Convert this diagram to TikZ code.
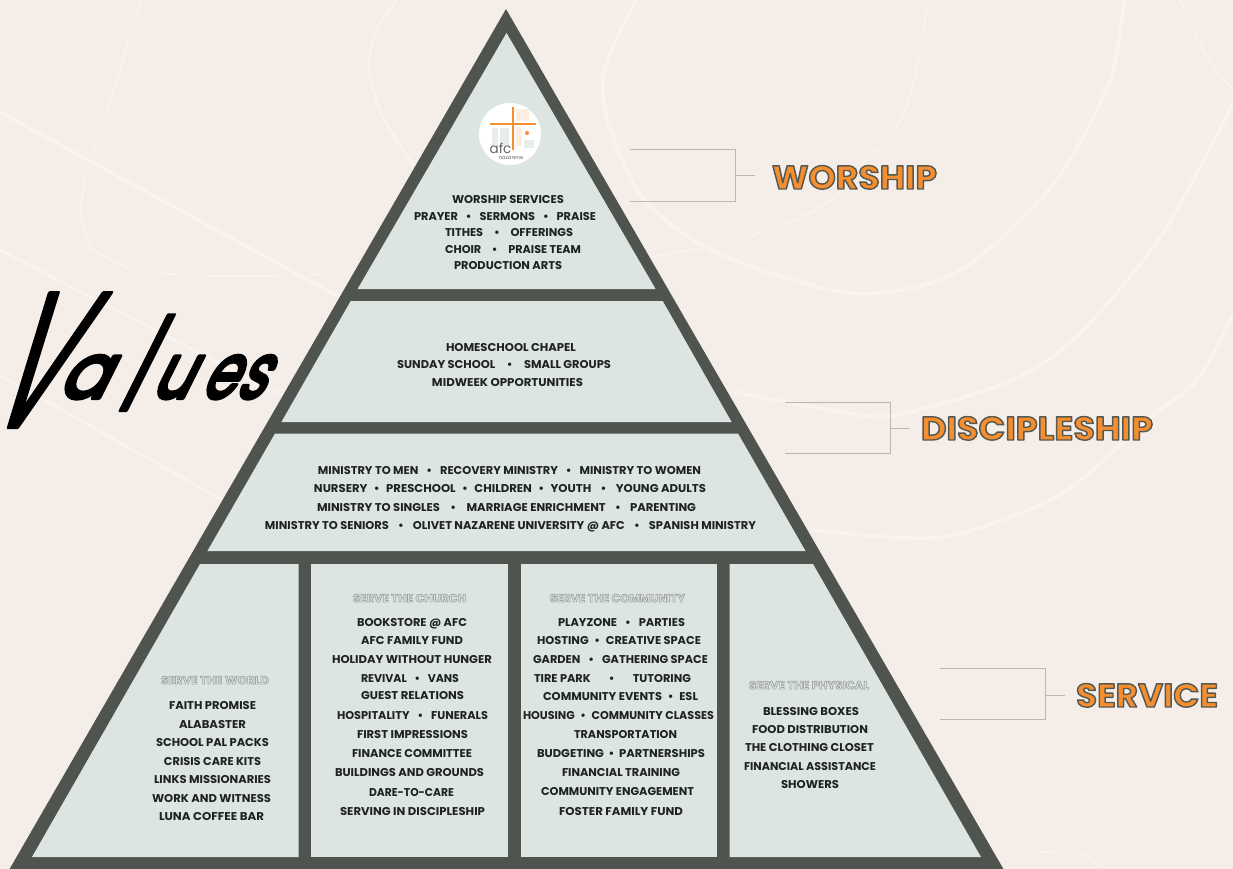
\documentclass[tikz,border=0pt]{standalone}
\usepackage{fontspec}
\usepackage{graphicx}
\setmainfont{Poppins}
\definecolor{bg}{HTML}{F5EDE7}
\definecolor{swirl}{HTML}{F8F3EF}
\definecolor{dark}{HTML}{50544F}
\definecolor{cellc}{HTML}{DDE5E3}
\definecolor{ink}{HTML}{1E2222}
\definecolor{orangec}{HTML}{F58E2E}
\definecolor{brk}{HTML}{BBB6B1}
\newcommand\strokedtext[3]{\special{pdf:code q 2 Tr #1 w 1 j 1 J #2 RG}#3\special{pdf:code Q}}
\newcommand\bu[1][.7em]{\hspace{#1}•\hspace{#1}}
% advance, x scale, raise, size, letter
\newcommand\sx[5]{\makebox[#1pt][l]{\raisebox{#3pt}{\scalebox{#2}[1]{\fontsize{#4}{#4}\selectfont #5}}}}
% name, left x, right x, centre y, style, text
\newcommand\txtline[6]{%
  \pgfmathsetmacro\wid{#3-#2}\pgfmathsetmacro\cx{(#2+#3)/2}%
  \node[#5] (#1) at (\cx,#4+4.1) {\resizebox{\wid pt}{\height}{#6}};}
\newcommand\bl[5]{\txtline{#1}{#2}{#3}{#4}{lineitem}{#5}}
\newcommand\hd[5]{\txtline{#1}{#2}{#3}{#4}{headitem}{\strokedtext{0.7}{0.62 0.64 0.63}{#5}}}
\tikzset{
  lineitem/.style={anchor=base,inner sep=0pt,font=\fontsize{11.3}{12}\bfseries,text=ink},
  headitem/.style={anchor=base,inner sep=0pt,font=\fontsize{11.3}{12}\bfseries,text=cellc},
  bigitem/.style={anchor=base,inner sep=0pt,font=\fontsize{33}{34}\bfseries,text=orangec},
  cell/.style={fill=cellc,draw=none},
  band/.style={fill=dark,draw=none},
  swirlline/.style={draw=swirl,line width=3pt,line cap=round,line join=round},
  swirlthin/.style={draw=swirl,line width=2pt,line cap=round,line join=round},
  bracket/.style={draw=brk,line width=1pt},
}
\begin{document}
\begin{tikzpicture}[x=1pt,y=-1pt]
\useasboundingbox (0,0) rectangle (1233,869);
\fill[bg] (0,0) rectangle (1233,869);
% background swirls
\draw[swirlline,line width=4pt] (0,112) -- (345,300);
\draw[swirlline] (0,250) -- (290,400);
\draw[swirlline] (0,375) -- (222,500);
\draw[swirlthin] (142,1) -- (137,15);
\draw[swirlthin] (128,43) -- (106,115);
\draw[swirlthin] (97,142) -- (92,155);
\draw[swirlthin] plot[smooth] coordinates {(85,178) (81,215) (92,248) (132,270)};
\draw[swirlthin] (162,274) -- (177,274);
\draw[swirlthin] (205,276) -- (278,276);
\draw[swirlthin] (310,275) -- (322,274);
\draw[swirlline] plot[smooth] coordinates {(397,0) (376,30) (369,70) (382,115) (413,165)};
\draw[swirlline,line width=4pt] plot[smooth] coordinates {(636,0) (605,67) (607,117) (642,197) (717,253) (851,293) (955,273) (1051,187) (1109,83) (1124,0)};
\draw[swirlthin] (926,10) -- (924,28);
\draw[swirlthin] plot[smooth] coordinates {(920,53) (909,100) (897,127)};
\draw[swirlthin] (880,148) -- (863,163);
\draw[swirlthin] plot[smooth] coordinates {(847,187) (820,207) (788,223)};
\draw[swirlthin] (763,232) -- (747,238);
\draw[swirlthin] (717,245) -- (653,257);
\draw[swirlthin] (1180,0) -- (1183,8);
\draw[swirlthin] plot[smooth] coordinates {(1195,33) (1210,62) (1233,90)};
\draw[swirlline,line width=4pt] plot[smooth] coordinates {(1233,103) (1163,233) (1080,333) (1013,380) (897,415) (847,413) (735,392)};
\draw[swirlline,line width=4pt] plot[smooth] coordinates {(1233,315) (1197,380) (1147,420) (1063,493) (963,533) (903,538) (813,530)};
\draw[swirlthin] (1037,852) -- (1053,852);
\draw[swirlthin] (1080,853) -- (1103,867);
\draw[swirlthin] (1003,860) -- (1012,858);
% pyramid
\fill[band] (506,9) -- (1004,870) -- (9,870) -- cycle;
\fill[cell] (506.5,33) -- (655.6,289) -- (357.6,289) -- cycle;
\fill[cell] (350.7,301) -- (662.7,301) -- (731.6,422) -- (281.4,422) -- cycle;
\fill[cell] (275,433.5) -- (738,433.5) -- (805.5,551) -- (207.4,551) -- cycle;
\fill[cell] (200,564) -- (298.5,564) -- (298.5,857) -- (32,857) -- cycle;
\fill[cell] (311,564) rectangle (508,857);
\fill[cell] (520.5,564) rectangle (717,857);
\fill[cell] (729.5,564) -- (813,564) -- (981,857) -- (729.5,857) -- cycle;
% logo
\node[circle,fill=white,draw=none,minimum size=62pt,inner sep=0pt] (logo) at (510,134) {};
\fill[cellc!70!white] (492,128) rectangle (498,146);
\fill[cellc!70!white] (500,128) rectangle (509,146);
\fill[orangec!15!white] (516,109) rectangle (529,121);
\fill[orangec!15!white] (516,127) rectangle (522,146);
\fill[cellc!70!white] (524,140) rectangle (534,148);
\draw[orangec,line width=1.6pt] (513,107) -- (513,150);
\draw[orangec,line width=1.6pt] (490,124) -- (536,124);
\fill[orangec] (527,133) circle (2pt);
\node[inner sep=0pt,font=\fontsize{13.5}{14}\selectfont,text=black!60] (afc) at (500.5,148) {afc};
\node[inner sep=0pt,font=\fontsize{5.2}{6}\selectfont,text=black!60] (naz) at (511,158.5) {nazarene};
% top triangle
\bl{a1}{452}{564}{199}{WORSHIP SERVICES}
\bl{a2}{414}{596}{216}{PRAYER\bu SERMONS\bu PRAISE}
\bl{a3}{445}{573}{232}{TITHES\bu[.95em]OFFERINGS}
\bl{a4}{445}{581}{249}{CHOIR\bu[.95em]PRAISE TEAM}
\bl{a5}{454}{562}{265}{PRODUCTION ARTS}
% second
\bl{b1}{446}{576}{347}{HOMESCHOOL CHAPEL}
\bl{b2}{397}{611}{364}{SUNDAY SCHOOL\bu[1em]SMALL GROUPS}
\bl{b3}{432}{583}{382}{MIDWEEK OPPORTUNITIES}
% third
\bl{c1}{318}{701}{470}{MINISTRY TO MEN\bu RECOVERY MINISTRY\bu MINISTRY TO WOMEN}
\bl{c2}{314}{706}{488}{NURSERY\bu[.55em]PRESCHOOL\bu[.55em]CHILDREN\bu[.55em]YOUTH\bu[.8em]YOUNG ADULTS}
\bl{c3}{317}{696}{507}{MINISTRY TO SINGLES\bu[.9em]MARRIAGE ENRICHMENT\bu[.8em]PARENTING}
\bl{c4}{265}{756}{525}{MINISTRY TO SENIORS\bu[.8em]OLIVET NAZARENE UNIVERSITY @ AFC\bu[.8em]SPANISH MINISTRY}
% world
\hd{d0}{161}{269}{680}{SERVE THE WORLD}
\bl{d1}{169}{256}{705}{FAITH PROMISE}
\bl{d2}{179}{246}{724}{ALABASTER}
\bl{d3}{156}{269}{742}{SCHOOL PAL PACKS}
\bl{d4}{164}{261}{761}{CRISIS CARE KITS}
\bl{d5}{154}{271}{779}{LINKS MISSIONARIES}
\bl{d6}{152}{271}{798}{WORK AND WITNESS}
\bl{d7}{159}{264}{816}{LUNA COFFEE BAR}
% church
\hd{e0}{353}{466}{598}{SERVE THE CHURCH}
\bl{e1}{357}{467}{622}{BOOKSTORE @ AFC}
\bl{e2}{361}{463}{640}{AFC FAMILY FUND}
\bl{e3}{332}{492}{659}{HOLIDAY WITHOUT HUNGER}
\bl{e4}{361}{459}{678}{REVIVAL\bu VANS}
\bl{e5}{361}{464}{695}{GUEST RELATIONS}
\bl{e6}{337}{488}{715}{HOSPITALITY\bu FUNERALS}
\bl{e7}{357}{468}{734}{FIRST IMPRESSIONS}
\bl{e8}{352}{472}{753}{FINANCE COMMITTEE}
\bl{e9}{335}{484}{772}{BUILDINGS AND GROUNDS}
\bl{e10}{369}{454}{792}{DARE-TO-CARE}
\bl{e11}{340}{485}{811}{SERVING IN DISCIPLESHIP}
% community
\hd{f0}{550}{685}{598}{SERVE THE COMMUNITY}
\bl{f1}{558}{685}{622}{PLAYZONE\bu PARTIES}
\bl{f2}{537}{701}{640}{HOSTING\bu[.5em]CREATIVE SPACE}
\bl{f3}{533}{708}{659}{GARDEN\bu GATHERING SPACE}
\bl{f4}{534}{691}{678}{TIRE PARK\bu[1.6em]TUTORING}
\bl{f5}{543}{698}{696}{COMMUNITY EVENTS\bu[.5em]ESL}
\bl{f6}{523}{714}{715}{HOUSING\bu[.5em]COMMUNITY CLASSES}
\bl{f7}{574}{677}{734}{TRANSPORTATION}
\bl{f8}{537}{705}{753}{BUDGETING\bu[.4em]PARTNERSHIPS}
\bl{f9}{562}{680}{772}{FINANCIAL TRAINING}
\bl{f10}{541}{694}{791}{COMMUNITY ENGAGEMENT}
\bl{f11}{559}{683}{811}{FOSTER FAMILY FUND}
% physical
\hd{g0}{749}{869}{685}{SERVE THE PHYSICAL}
\bl{g1}{763}{859}{711}{BLESSING BOXES}
\bl{g2}{752}{868}{729}{FOOD DISTRIBUTION}
\bl{g3}{745}{874}{747}{THE CLOTHING CLOSET}
\bl{g4}{744}{876}{766}{FINANCIAL ASSISTANCE}
\bl{g5}{781}{839}{784}{SHOWERS}
% side labels
\node[bigitem] (worship) at (854.5,189) {\resizebox{165pt}{\height}{\strokedtext{1.4}{0.33 0.35 0.33}{WORSHIP}}};
\node[bigitem] (disc) at (1037,440) {\resizebox{232pt}{\height}{\strokedtext{1.4}{0.33 0.35 0.33}{DISCIPLESHIP}}};
\node[bigitem] (serv) at (1147,707) {\resizebox{142pt}{\height}{\strokedtext{1.4}{0.33 0.35 0.33}{SERVICE}}};
% brackets
\coordinate (wa) at (630,150); \coordinate (wb) at (735,150); \coordinate (wc) at (735,201); \coordinate (wd) at (630,201); \coordinate (we) at (735,176); \coordinate (wf) at (755,176);
\draw[bracket] (wa) -- (wb) -- (wc) -- (wd); \draw[bracket] (we) -- (wf);
\coordinate (da) at (785,402); \coordinate (db) at (890,402); \coordinate (dc) at (890,453); \coordinate (dd) at (785,453); \coordinate (de) at (890,428); \coordinate (df) at (910,428);
\draw[bracket] (da) -- (db) -- (dc) -- (dd); \draw[bracket] (de) -- (df);
\coordinate (sa) at (940,668); \coordinate (sb) at (1045,668); \coordinate (sc) at (1045,719); \coordinate (sd) at (940,719); \coordinate (se) at (1045,695); \coordinate (sf) at (1065,695);
\draw[bracket] (sa) -- (sb) -- (sc) -- (sd); \draw[bracket] (se) -- (sf);
% title
\node[anchor=base west,inner sep=0pt,text=black,xslant=0.5,transform shape] (values) at (-6,398)
 {\strokedtext{4}{0 0 0}{\sx{62}{.52}{-29}{192}{V}\sx{64}{.95}{0}{76}{a}\sx{29}{.6}{-12}{128}{l}\sx{50}{.8}{0}{76}{u}\sx{35}{.72}{0}{76}{e}\sx{30}{.72}{0}{76}{s}}};
\end{tikzpicture}
\end{document}
